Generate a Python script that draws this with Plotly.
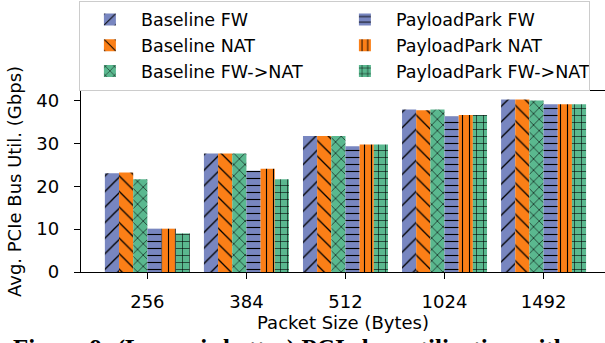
import plotly.graph_objects as go

categories = ["256", "384", "512", "1024", "1492"]
series_names = ["Baseline FW", "Baseline NAT", "Baseline FW->NAT",
                "PayloadPark FW", "PayloadPark NAT", "PayloadPark FW->NAT"]
baseline_fw = [23.0, 27.6, 31.7, 37.9, 40.2]
baseline_nat = [23.2, 27.6, 31.7, 37.7, 40.2]
baseline_fw_nat = [21.6, 27.6, 31.7, 37.9, 40.0]
pp_fw = [10.1, 23.6, 29.3, 36.3, 39.1]
pp_nat = [10.1, 24.1, 29.7, 36.6, 39.1]
pp_fw_nat = [9.0, 21.6, 29.7, 36.6, 39.1]
y_ticks = [0, 10, 20, 30, 40]

values = [baseline_fw, baseline_nat, baseline_fw_nat, pp_fw, pp_nat, pp_fw_nat]
colors = ["#7886c0", "#fb7f17", "#5ab88f", "#7886c0", "#fb7f17", "#5ab88f"]
shapes = ["/", "\\", "x", "-", "|", "+"]
psizes = [11, 11, 8, 7, 7, 7]
psol = [0.12, 0.12, 0.14, 0.16, 0.16, 0.16]
groups = ["b", "b", "b", "p", "p", "p"]

FONT = "DejaVu Sans"
fig = go.Figure()
for i, name in enumerate(series_names):
    fig.add_trace(go.Bar(
        x=list(range(len(categories))), y=values[i], name=name,
        legendgroup=groups[i],
        marker=dict(color=colors[i], line=dict(width=0),
                    pattern=dict(shape=shapes[i], fgcolor="black", fgopacity=1,
                                 size=psizes[i], solidity=psol[i])),
    ))

fig.update_layout(
    width=605, height=343,
    margin=dict(l=81, r=0, t=91, b=71, pad=0, autoexpand=False),
    paper_bgcolor="white", plot_bgcolor="white",
    barmode="group", bargap=0.142, bargroupgap=0,
    font=dict(family=FONT, size=18, color="black"),
    legend=dict(orientation="h", x=-0.004, xanchor="left", y=1.50, yanchor="top",
                bgcolor="rgba(255,255,255,0.8)", bordercolor="#cccccc", borderwidth=1,
                font=dict(family=FONT, size=17.5, color="black"),
                itemwidth=52, entrywidth=188, traceorder="grouped", tracegroupgap=0),
    xaxis=dict(range=[-0.67, 4.62], tickmode="array", tickvals=list(range(len(categories))),
               ticktext=categories, showline=True, mirror=True, linecolor="black", linewidth=1.4,
               ticks="outside", ticklen=6, tickwidth=1.4, tickcolor="black", showgrid=False,
               zeroline=False, automargin=False, ticklabelstandoff=7, tickfont=dict(family=FONT, size=18),
               title=dict(text="Packet Size (Bytes)", standoff=5, font=dict(family=FONT, size=18))),
    yaxis=dict(range=[0, 42.2], tickmode="array", tickvals=y_ticks,
               showline=True, mirror=False, linecolor="black", linewidth=1.4,
               ticks="outside", ticklen=6, tickwidth=1.4, tickcolor="black", showgrid=False,
               zeroline=False, automargin=False, ticklabelstandoff=11, tickfont=dict(family=FONT, size=18),
               title=dict(text="Avg. PCIe Bus Util. (Gbps)", standoff=9, font=dict(family=FONT, size=18))),
)
fig.add_annotation(text="Figure 9: (Lower is better) PCIe bus utilization with",
                   xref="paper", yref="paper", x=-0.1317, y=-0.426,
                   xanchor="left", yanchor="middle", showarrow=False, borderpad=0,
                   font=dict(family="Liberation Serif", size=25, color="black", weight="bold"))
fig.write_html("out.html", config={"displayModeBar": False},
               post_script="document.body.style.margin='0px';document.body.style.overflow='hidden';")
